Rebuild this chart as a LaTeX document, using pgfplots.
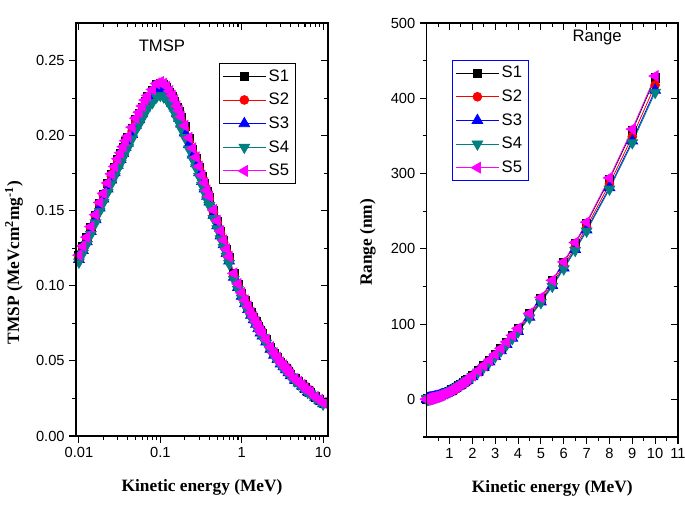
\documentclass[border=0pt]{standalone}
\usepackage{pgfplots}
\pgfplotsset{compat=1.18}
\usepackage{pgfplotstable}
\usepackage{fontspec}
\setmainfont{Liberation Sans}
\newfontfamily\tnr{Liberation Serif}
\newcommand\lab{\tnr\bfseries\fontsize{13}{15}\selectfont}
\definecolor{cS4}{RGB}{0,128,128}
\definecolor{cS5}{RGB}{255,0,255}

\pgfplotstableread{
E T1 T2 T3 T4 T5 R1 R2 R3 R4 R5
0.01 0.120 0.119 0.1176 0.1158 0.1204 0.20 0.20 0.19 0.19 0.20
0.0112 0.126 0.125 0.1235 0.1216 0.1264 0.22 0.22 0.21 0.21 0.22
0.0125 0.132 0.131 0.1294 0.1274 0.1324 0.24 0.23 0.23 0.23 0.24
0.014 0.139 0.138 0.1362 0.1341 0.1394 0.26 0.25 0.25 0.25 0.26
0.016 0.147 0.146 0.1441 0.1419 0.1474 0.29 0.28 0.28 0.28 0.29
0.018 0.155 0.154 0.1519 0.1496 0.1555 0.32 0.31 0.31 0.31 0.32
0.02 0.161 0.160 0.1578 0.1554 0.1615 0.34 0.33 0.33 0.32 0.34
0.0225 0.168 0.167 0.1646 0.1621 0.1685 0.37 0.36 0.36 0.35 0.37
0.025 0.174 0.173 0.1705 0.1679 0.1745 0.40 0.39 0.38 0.38 0.40
0.0275 0.179 0.178 0.1754 0.1727 0.1795 0.43 0.42 0.41 0.41 0.43
0.03 0.184 0.183 0.1803 0.1776 0.1846 0.45 0.44 0.43 0.43 0.45
0.0325 0.188 0.186 0.1842 0.1814 0.1886 0.48 0.47 0.46 0.46 0.48
0.035 0.192 0.190 0.1882 0.1853 0.1926 0.50 0.49 0.48 0.48 0.50
0.0375 0.196 0.194 0.1921 0.1891 0.1966 0.53 0.52 0.51 0.51 0.53
0.04 0.199 0.197 0.1950 0.1920 0.1996 0.55 0.54 0.53 0.53 0.55
0.045 0.205 0.203 0.2009 0.1978 0.2056 0.60 0.59 0.58 0.57 0.60
0.05 0.211 0.209 0.2068 0.2036 0.2116 0.64 0.63 0.62 0.61 0.64
0.055 0.215 0.213 0.2107 0.2075 0.2156 0.69 0.67 0.66 0.66 0.69
0.06 0.219 0.217 0.2146 0.2113 0.2197 0.73 0.71 0.70 0.70 0.73
0.065 0.223 0.221 0.2185 0.2152 0.2237 0.77 0.75 0.74 0.74 0.77
0.07 0.226 0.224 0.2215 0.2181 0.2267 0.80 0.78 0.77 0.76 0.80
0.08 0.230 0.228 0.2254 0.2220 0.2307 0.88 0.86 0.85 0.84 0.89
0.09 0.234 0.232 0.2293 0.2258 0.2347 0.95 0.93 0.91 0.91 0.96
0.1 0.235 0.233 0.2303 0.2268 0.2357 1.02 1.00 0.98 0.97 1.03
0.11 0.234 0.232 0.2293 0.2258 0.2347 1.09 1.07 1.05 1.04 1.10
0.12 0.232 0.230 0.2274 0.2239 0.2327 1.16 1.13 1.12 1.11 1.17
0.13 0.229 0.227 0.2244 0.2210 0.2297 1.23 1.20 1.18 1.17 1.24
0.14 0.226 0.224 0.2215 0.2181 0.2267 1.30 1.27 1.25 1.24 1.31
0.15 0.223 0.221 0.2185 0.2152 0.2237 1.37 1.34 1.32 1.31 1.38
0.16 0.219 0.217 0.2146 0.2113 0.2197 1.44 1.41 1.39 1.38 1.45
0.17 0.216 0.214 0.2117 0.2084 0.2166 1.51 1.48 1.45 1.44 1.52
0.18 0.212 0.210 0.2078 0.2046 0.2126 1.58 1.55 1.52 1.51 1.59
0.2 0.206 0.204 0.2019 0.1988 0.2066 1.72 1.68 1.65 1.64 1.73
0.225 0.198 0.196 0.1940 0.1911 0.1986 1.91 1.87 1.84 1.82 1.92
0.25 0.191 0.189 0.1872 0.1843 0.1916 2.10 2.05 2.02 2.01 2.11
0.275 0.185 0.184 0.1813 0.1785 0.1856 2.30 2.25 2.21 2.20 2.31
0.3 0.179 0.178 0.1754 0.1727 0.1795 2.50 2.45 2.41 2.39 2.52
0.325 0.173 0.172 0.1695 0.1669 0.1735 2.71 2.65 2.61 2.59 2.73
0.35 0.168 0.167 0.1646 0.1621 0.1685 2.93 2.87 2.82 2.80 2.95
0.375 0.163 0.162 0.1597 0.1573 0.1635 3.15 3.08 3.03 3.01 3.17
0.4 0.159 0.158 0.1558 0.1534 0.1595 3.38 3.31 3.25 3.23 3.40
0.45 0.150 0.149 0.1470 0.1448 0.1505 3.86 3.78 3.71 3.69 3.88
0.5 0.143 0.142 0.1401 0.1380 0.1434 4.36 4.26 4.19 4.16 4.39
0.55 0.136 0.135 0.1333 0.1312 0.1364 4.88 4.77 4.69 4.66 4.91
0.6 0.130 0.129 0.1274 0.1255 0.1304 5.43 5.31 5.22 5.19 5.46
0.65 0.124 0.123 0.1215 0.1197 0.1244 6.00 5.87 5.77 5.73 6.04
0.7 0.119 0.118 0.1166 0.1148 0.1194 6.60 6.45 6.35 6.30 6.64
0.8 0.108 0.107 0.1058 0.1042 0.1083 7.9 7.7 7.6 7.5 7.9
0.9 0.101 0.100 0.0990 0.0975 0.1013 9.3 9.1 8.9 8.9 9.4
1.0 0.095 0.094 0.0931 0.0917 0.0953 10.9 10.7 10.5 10.4 11.0
1.1 0.090 0.089 0.0882 0.0869 0.0903 12.6 12.3 12.1 12.0 12.7
1.2 0.086 0.085 0.0843 0.0830 0.0863 14.4 14.1 13.9 13.8 14.5
1.3 0.082 0.081 0.0804 0.0791 0.0822 16.3 15.9 15.7 15.6 16.4
1.4 0.079 0.078 0.0774 0.0762 0.0792 18.2 17.8 17.5 17.4 18.3
1.5 0.076 0.075 0.0745 0.0733 0.0762 20.2 19.8 19.4 19.3 20.3
1.6 0.073 0.072 0.0715 0.0704 0.0732 22.3 21.8 21.5 21.3 22.4
1.7 0.070 0.069 0.0686 0.0676 0.0702 24.5 24.0 23.6 23.4 24.6
1.8 0.068 0.067 0.0666 0.0656 0.0682 26.8 26.2 25.8 25.6 27.0
2.0 0.064 0.063 0.0627 0.0618 0.0642 31.5 30.8 30.3 30.1 31.7
2.25 0.059 0.058 0.0578 0.0569 0.0592 37.8 37.0 36.4 36.1 38.0
2.5 0.055 0.055 0.0539 0.0531 0.0552 44.6 43.6 42.9 42.6 44.9
2.75 0.052 0.052 0.0510 0.0502 0.0522 51.8 50.7 49.8 49.5 52.1
3.0 0.049 0.049 0.0480 0.0473 0.0491 59.4 58.1 57.1 56.7 59.8
3.25 0.047 0.047 0.0461 0.0454 0.0471 67.4 65.9 64.8 64.4 67.8
3.5 0.045 0.045 0.0441 0.0434 0.0451 75.8 74.1 72.9 72.4 76.3
3.75 0.043 0.043 0.0421 0.0415 0.0431 84.6 82.7 81.4 80.8 85.1
4.0 0.041 0.041 0.0402 0.0396 0.0411 93.8 91.7 90.2 89.6 94.4
4.5 0.038 0.038 0.0372 0.0367 0.0381 113.5 111.0 109.2 108.4 114.2
5.0 0.036 0.036 0.0353 0.0347 0.0361 134.6 131.6 129.5 128.5 135.4
5.5 0.034 0.034 0.0333 0.0328 0.0341 157.3 153.8 151.3 150.2 158.2
6.0 0.032 0.032 0.0314 0.0309 0.0321 181.5 177.5 174.6 173.3 182.6
6.5 0.030 0.030 0.0294 0.0290 0.0301 207.1 202.5 199.2 197.8 208.3
7.0 0.029 0.029 0.0284 0.0280 0.0291 234.0 228.9 225.1 223.5 235.4
8.0 0.026 0.026 0.0255 0.0251 0.0261 292.5 286.1 281.4 279.3 294.3
9.0 0.024 0.024 0.0235 0.0232 0.0241 357.0 349.1 343.4 340.9 359.1
10.0 0.022 0.022 0.0216 0.0212 0.0221 427.0 417.6 410.8 407.8 429.6
}\data

\pgfplotsset{
  frame/.style={scale only axis,
    axis line style={line width=0.9pt},
    major tick length=5pt, minor tick length=3pt,
    every tick/.style={line width=0.8pt, black},
    tick label style={font=\fontsize{11}{13}\selectfont},
    /pgf/number format/assume math mode=true},
  s1/.style={black, line width=0.6pt, mark=square*, mark size=3.1pt},
  s2/.style={red, line width=0.6pt, mark=*, mark size=3.3pt},
  s3/.style={blue, line width=0.6pt, mark=triangle*, mark size=4.6pt},
  s4/.style={cS4, line width=0.6pt, mark=triangle*, mark size=4.6pt, mark options={rotate=180}},
  s5/.style={cS5, line width=0.6pt, mark=triangle*, mark size=4.6pt, mark options={rotate=90}},
  leg/.style={legend style={font=\fontsize{12.5}{14}\selectfont, row sep=3.5pt, inner sep=2.5pt,
      line width=0.7pt, cells={anchor=west}},
    legend image code/.code={\draw[mark repeat=2,mark phase=2] plot coordinates {(0cm,0cm) (0.56cm,0cm) (1.12cm,0cm)};}},
}

\begin{document}
\begin{tikzpicture}
\useasboundingbox (0,0) rectangle (513.75pt,378pt);
% ---------- left panel ----------
\begin{axis}[frame, at={(57pt,51pt)}, anchor=south west, width=189pt, height=309.75pt,
  xmode=log, xmin=0.0092, xmax=11.5, ymin=0, ymax=0.275,
  xtick={0.01,0.1,1,10}, xticklabels={0.01,0.1,1,10},
  minor xtick={0.02,0.03,0.04,0.05,0.06,0.07,0.08,0.09,0.2,0.3,0.4,0.5,0.6,0.7,0.8,0.9,2,3,4,5,6,7,8,9},
  ytick={0,0.05,0.1,0.15,0.2,0.25}, minor ytick={0.025,0.075,0.125,0.175,0.225},
  yticklabel style={/pgf/number format/fixed, /pgf/number format/fixed zerofill, /pgf/number format/precision=2},
  tick align=outside, xtick pos=left, ytick pos=left,
  xlabel={\lab Kinetic energy (MeV)},
  xlabel style={at={(axis description cs:0.5,-0.135)}, anchor=base},
  ylabel={\lab TMSP (MeVcm\textsuperscript{2}mg\textsuperscript{-1})},
  ylabel style={at={(axis description cs:-0.226,0.42)}, anchor=base},
  leg, legend style={at={(axis description cs:0.567,0.903)}, anchor=north west, draw=black},
]
\addplot[s1] table[x=E, y=T1] {\data};
\addplot[s2] table[x=E, y=T2] {\data};
\addplot[s3] table[x=E, y=T3] {\data};
\addplot[s4] table[x=E, y=T4] {\data};
\addplot[s5] table[x=E, y=T5] {\data};
\legend{S1,S2,S3,S4,S5}
\node[font=\fontsize{12.5}{14}\selectfont] at (axis description cs:0.341,0.944) {TMSP};
\end{axis}
\begin{axis}[frame, at={(57pt,51pt)}, anchor=south west, width=189pt, height=309.75pt,
  xmode=log, xmin=0.0092, xmax=11.5, ymin=0, ymax=0.275,
  xtick={0.01,0.1,1,10}, xticklabels={},
  minor xtick={0.02,0.03,0.04,0.05,0.06,0.07,0.08,0.09,0.2,0.3,0.4,0.5,0.6,0.7,0.8,0.9,2,3,4,5,6,7,8,9},
  ytick={0,0.05,0.1,0.15,0.2,0.25}, minor ytick={0.025,0.075,0.125,0.175,0.225}, yticklabels={},
  tick align=inside, xtick pos=right, ytick pos=right]
\end{axis}
% ---------- right panel ----------
\begin{axis}[frame, at={(320pt,50.25pt)}, anchor=south west, width=188.5pt, height=310.5pt,
  xmin=0, xmax=11, ymin=-50, ymax=500,
  xtick={1,2,3,4,5,6,7,8,9,10,11}, minor xtick={0.5,1.5,2.5,3.5,4.5,5.5,6.5,7.5,8.5,9.5,10.5},
  ytick={0,100,200,300,400,500}, minor ytick={-50,50,150,250,350,450},
  tick align=outside, xtick pos=left, ytick pos=left,
  xlabel={\lab Kinetic energy (MeV)},
  xlabel style={at={(axis description cs:0.5,-0.135)}, anchor=base},
  ylabel={\lab Range (nm)},
  ylabel style={at={(axis description cs:-0.218,0.47)}, anchor=base},
  leg, legend style={at={(axis description cs:0.1007,0.911)}, anchor=north west, draw=blue},
]
\addplot[s1] table[x=E, y=R1] {\data};
\addplot[s2] table[x=E, y=R2] {\data};
\addplot[s3] table[x=E, y=R3] {\data};
\addplot[s4] table[x=E, y=R4] {\data};
\addplot[s5] table[x=E, y=R5] {\data};
\legend{S1,S2,S3,S4,S5}
\node[font=\fontsize{12.5}{14}\selectfont] at (axis description cs:0.678,0.964) {Range};
\end{axis}
\begin{axis}[frame, at={(320pt,50.25pt)}, anchor=south west, width=188.5pt, height=310.5pt,
  xmin=0, xmax=11, ymin=-50, ymax=500,
  xtick={1,2,3,4,5,6,7,8,9,10,11}, minor xtick={0.5,1.5,2.5,3.5,4.5,5.5,6.5,7.5,8.5,9.5,10.5}, xticklabels={},
  ytick={0,100,200,300,400,500}, minor ytick={-50,50,150,250,350,450}, yticklabels={},
  tick align=inside, xtick pos=right, ytick pos=right]
\end{axis}
\end{tikzpicture}
\end{document}
